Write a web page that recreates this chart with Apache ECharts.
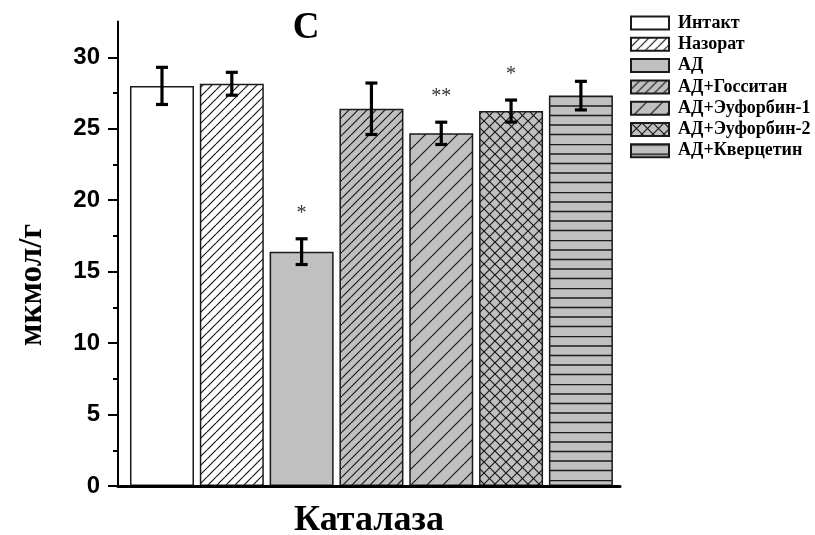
<!DOCTYPE html>
<html>
<head>
<meta charset="utf-8">
<title>Каталаза</title>
<script src="https://cdn.jsdelivr.net/npm/echarts@6.0.0/dist/echarts.min.js"></script>
<style>
  html, body { margin: 0; padding: 0; background: #fff; }
  #chart { width: 815px; height: 535px; }
</style>
</head>
<body>
<div id="chart"></div>
<script>
// Catalase activity by group, mean ± error, μmol/g
const groups = ['Интакт', 'Назорат', 'АД', 'АД+Госситан', 'АД+Эуфорбин-1', 'АД+Эуфорбин-2', 'АД+Кверцетин'];
const means = [28.0, 28.15, 16.4, 26.4, 24.68, 26.24, 27.32];
const errors = [1.3, 0.8, 0.9, 1.8, 0.78, 0.77, 1.0];
const marks = ['', '', '*', '', '**', '*', ''];
const majorTicks = [0, 5, 10, 15, 20, 25, 30];
const minorTicks = [2.5, 7.5, 12.5, 17.5, 22.5, 27.5];

const GRAY = '#c0c0c0';
const INK = '#1a1a1a';

// Tiled fills for the hatched bars
function tile(w, h, bg, draw) {
  const c = document.createElement('canvas');
  c.width = w; c.height = h;
  const g = c.getContext('2d');
  g.fillStyle = bg;
  g.fillRect(0, 0, w, h);
  g.strokeStyle = INK;
  g.lineWidth = 1.2;
  draw(g, w, h);
  return { image: c, repeat: 'repeat' };
}
function forward(g, t) {
  for (const k of [-t, 0, t]) {
    g.beginPath(); g.moveTo(k, t); g.lineTo(k + t, 0); g.stroke();
  }
}
function backward(g, t) {
  for (const k of [-t, 0, t]) {
    g.beginPath(); g.moveTo(k, 0); g.lineTo(k + t, t); g.stroke();
  }
}
const fills = [
  '#ffffff',
  tile(9, 9, '#ffffff', (g, t) => forward(g, t)),
  GRAY,
  tile(9, 9, GRAY, (g, t) => forward(g, t)),
  tile(16, 16, GRAY, (g, t) => forward(g, t)),
  tile(11, 11, GRAY, (g, t) => { forward(g, t); backward(g, t); }),
  tile(8, 48, GRAY, (g, w) => {
    g.lineWidth = 1.5;
    for (const y of [0.5, 10, 19.5, 29, 38.5]) {
      g.beginPath(); g.moveTo(0, y); g.lineTo(w, y); g.stroke();
    }
  })
];

const barSeries = groups.map((name, i) => ({
  name: name,
  type: 'bar',
  xAxisIndex: 0,
  yAxisIndex: 0,
  barWidth: 64,
  barGap: '-100%',
  data: [[i, means[i]]],
  itemStyle: { color: fills[i], borderColor: INK, borderWidth: 1.5 },
  emphasis: { disabled: true },
  silent: true,
  z: 2
}));

const errorSeries = {
  type: 'custom',
  xAxisIndex: 0,
  yAxisIndex: 0,
  silent: true,
  z: 5,
  data: means.map((m, i) => [i, m - errors[i], m + errors[i]]),
  encode: { x: 0, y: [1, 2] },
  renderItem: function (params, api) {
    const x = api.value(0);
    const lo = api.coord([x, api.value(1)]);
    const hi = api.coord([x, api.value(2)]);
    const hw = 6;
    const stroke = { stroke: '#000', lineWidth: 3.2 };
    return {
      type: 'group',
      children: [
        { type: 'line', shape: { x1: lo[0], y1: lo[1], x2: hi[0], y2: hi[1] }, style: stroke },
        { type: 'line', shape: { x1: hi[0] - hw, y1: hi[1], x2: hi[0] + hw, y2: hi[1] }, style: stroke },
        { type: 'line', shape: { x1: lo[0] - hw, y1: lo[1], x2: lo[0] + hw, y2: lo[1] }, style: stroke },
        {
          type: 'text',
          style: {
            text: marks[params.dataIndex], x: hi[0], y: hi[1] - 25,
            align: 'center', verticalAlign: 'middle',
            font: '20px "Liberation Serif", serif', fill: '#333'
          }
        }
      ]
    };
  }
};

const legendText = {
  fontFamily: 'Liberation Serif', fontWeight: 'bold', fontSize: 18, lineHeight: 18, color: '#000',
  padding: [0, 0, 0, 4]
};

const chart = echarts.init(document.getElementById('chart'), null, { renderer: 'canvas' });
chart.setOption({
  animation: false,
  backgroundColor: '#ffffff',
  title: {
    text: 'C',
    left: 301,
    top: 5,
    textAlign: 'center',
    textStyle: { fontFamily: 'Liberation Serif', fontWeight: 'bold', fontSize: 37, color: '#000' }
  },
  legend: {
    data: groups,
    orient: 'vertical',
    left: 625,
    top: 9,
    icon: 'rect',
    itemWidth: 38,
    itemHeight: 13,
    itemGap: 3.3,
    selectedMode: false,
    textStyle: legendText
  },
  grid: {
    left: 118, top: 21.6, right: 195, bottom: 49,
    containLabel: false,
    outerBoundsMode: 'none'
  },
  xAxis: {
    type: 'value',
    min: -0.63,
    max: 6.56,
    name: 'Каталаза',
    nameLocation: 'middle',
    nameGap: 17,
    nameTextStyle: { fontFamily: 'Liberation Serif', fontWeight: 'bold', fontSize: 36, color: '#000' },
    axisLine: { show: true, onZero: false, lineStyle: { color: '#000', width: 3 } },
    axisTick: { show: false },
    axisLabel: { show: false },
    splitLine: { show: false },
    z: 3
  },
  yAxis: [
    {
      type: 'value',
      min: 0,
      max: 32.5,
      position: 'left',
      name: 'мкмол/г',
      nameLocation: 'middle',
      nameRotate: 90,
      nameGap: 69,
      nameTextStyle: {
        fontFamily: 'Liberation Serif', fontWeight: 'bold', fontSize: 33, color: '#000',
        padding: [0, 62, 0, 0]
      },
      axisLine: { show: true, onZero: false, lineStyle: { color: '#000', width: 2 } },
      axisTick: { show: true, length: 10, customValues: majorTicks, lineStyle: { color: '#000', width: 2 } },
      axisLabel: {
        customValues: majorTicks,
        margin: 18,
        fontFamily: '"Liberation Sans", Arial, sans-serif',
        fontWeight: 'bold',
        fontSize: 24,
        color: '#000'
      },
      splitLine: { show: false }
    },
    {
      type: 'value',
      min: 0,
      max: 32.5,
      position: 'left',
      offset: 0,
      axisLine: { show: false, onZero: false },
      axisTick: { show: true, length: 5, customValues: minorTicks, lineStyle: { color: '#000', width: 2 } },
      axisLabel: { show: false },
      splitLine: { show: false }
    }
  ],
  series: barSeries.concat([errorSeries])
});
</script>
</body>
</html>
